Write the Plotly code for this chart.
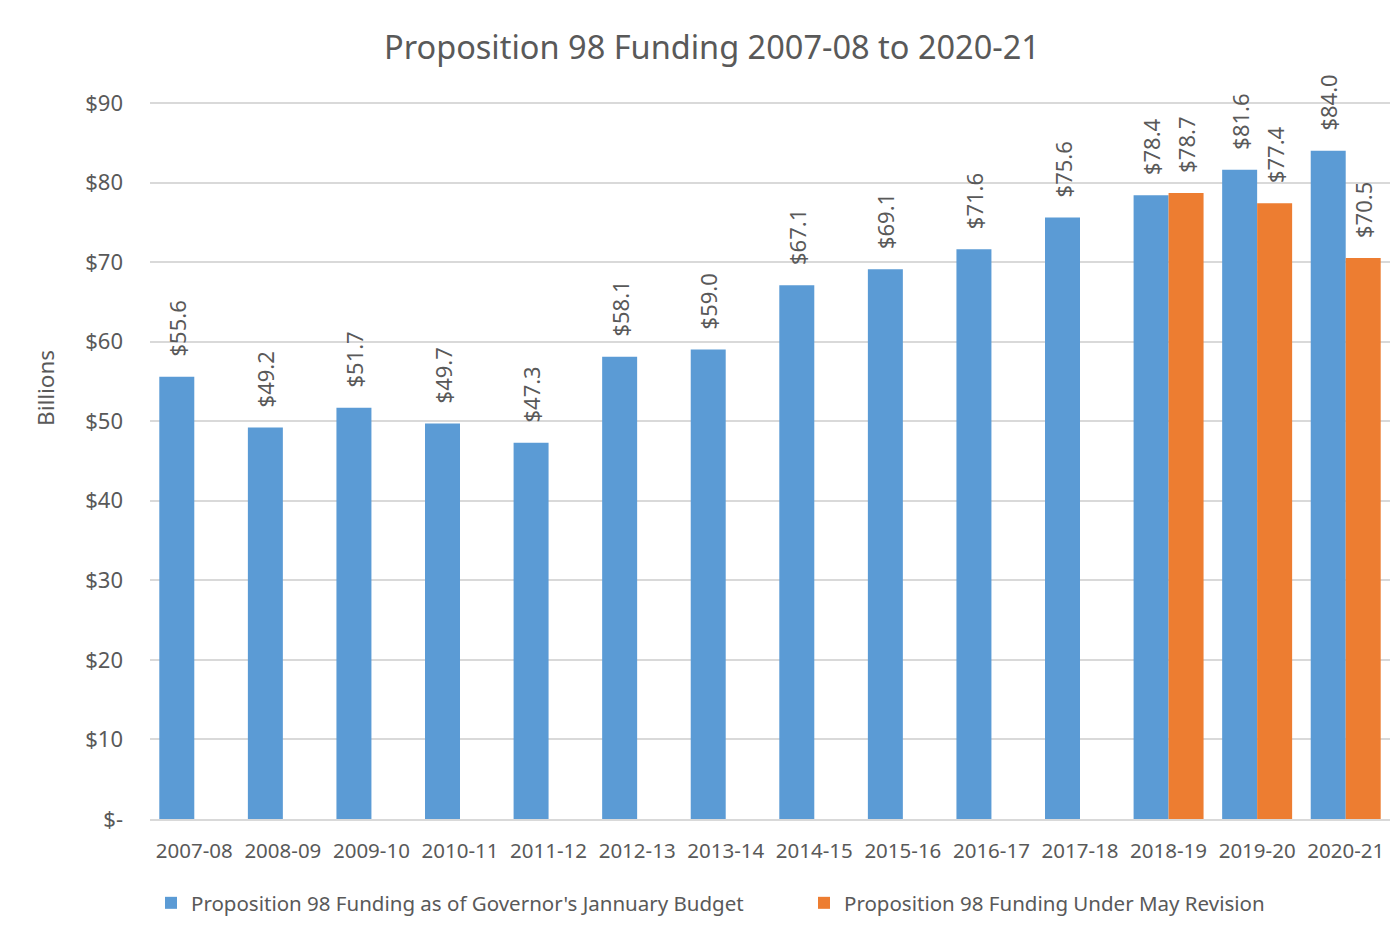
import plotly.graph_objects as go

categories = ["2007-08", "2008-09", "2009-10", "2010-11", "2011-12", "2012-13", "2013-14",
              "2014-15", "2015-16", "2016-17", "2017-18", "2018-19", "2019-20", "2020-21"]
january_budget = [55.6, 49.2, 51.7, 49.7, 47.3, 58.1, 59.0, 67.1, 69.1, 71.6, 75.6, 78.4, 81.6, 84.0]
may_revision = [None, None, None, None, None, None, None, None, None, None, None, 78.7, 77.4, 70.5]
tick_vals = [0, 10, 20, 30, 40, 50, 60, 70, 80, 90]
tick_text = ["$-", "$10", "$20", "$30", "$40", "$50", "$60", "$70", "$80", "$90"]

FONT = "Noto Sans"
GRAY = "#595959"
PAD = "\u00a0\u00a0\u00a0"

def fmt(v):
    return "" if v is None else f"{PAD}${v:.1f}"

# the page body has an 8px margin, so the figure is offset by 8px
OFF = 8
W, H = 1399 - OFF, 937 - OFF
YMAX = 90.5
PX_PER_UNIT = (819 - 103) / 90
L, R, B = 142, 9, 118
T = round((103 - OFF) - (YMAX - 90) * PX_PER_UNIT)
pw, ph = W - L - R, H - T - B

def px_x(page_px):
    return (page_px - OFF - L) / pw

def px_y(page_py):
    return (H - B - (page_py - OFF)) / ph

fig = go.Figure()
fig.add_trace(go.Bar(
    x=categories, y=january_budget,
    name="Proposition 98 Funding as of Governor's Jannuary Budget",
    marker=dict(color="#5B9BD5", line=dict(width=0)),
    text=[fmt(v) for v in january_budget], textposition="outside", textangle=-90,
    textfont=dict(family=FONT, size=22, color=GRAY), cliponaxis=False,
    constraintext="none", legend="legend",
))
fig.add_trace(go.Bar(
    x=categories, y=may_revision,
    name="Proposition 98 Funding Under May Revision",
    marker=dict(color="#ED7D31", line=dict(width=0)),
    text=[fmt(v) for v in may_revision], textposition="outside", textangle=-90,
    textfont=dict(family=FONT, size=22, color=GRAY), cliponaxis=False,
    constraintext="none", legend="legend2",
))

fig.add_annotation(text="Billions", xref="paper", yref="paper",
                   x=px_x(45), y=px_y(388), xanchor="center", yanchor="middle",
                   textangle=-90, showarrow=False,
                   font=dict(family=FONT, size=22.5, color=GRAY))

legend_common = dict(orientation="h", yanchor="middle", y=px_y(903),
                     xanchor="left", font=dict(family=FONT, size=20.5, color=GRAY),
                     itemwidth=30, bgcolor="rgba(0,0,0,0)")

fig.update_layout(
    width=W, height=H,
    margin=dict(l=L, r=R, t=T, b=B),
    paper_bgcolor="white", plot_bgcolor="rgba(0,0,0,0)",
    barmode="group", bargap=0.21, bargroupgap=0,
    title=dict(text="Proposition 98 Funding 2007-08 to 2020-21", x=(712 - OFF) / W, xanchor="center",
               xref="container", y=1 - (48 - OFF) / H, yanchor="middle",
               font=dict(family=FONT, size=32.5, color=GRAY)),
    font=dict(family=FONT, color=GRAY),
    showlegend=True,
    legend=dict(x=px_x(151), **legend_common),
    legend2=dict(x=px_x(804), **legend_common),
    xaxis=dict(type="category", tickfont=dict(family=FONT, size=20.5, color=GRAY), showline=True,
               linecolor="#D9D9D9", linewidth=1.5, ticks="", showgrid=False,
               automargin=False, ticklabelstandoff=13),
    yaxis=dict(range=[0, YMAX], tickvals=tick_vals, ticktext=tick_text,
               tickfont=dict(family=FONT, size=22, color=GRAY), showgrid=True,
               gridcolor="#D9D9D9", gridwidth=1.5, zeroline=False, ticks="",
               ticklabelstandoff=26, automargin=False),
)

fig.write_html("out.html")
